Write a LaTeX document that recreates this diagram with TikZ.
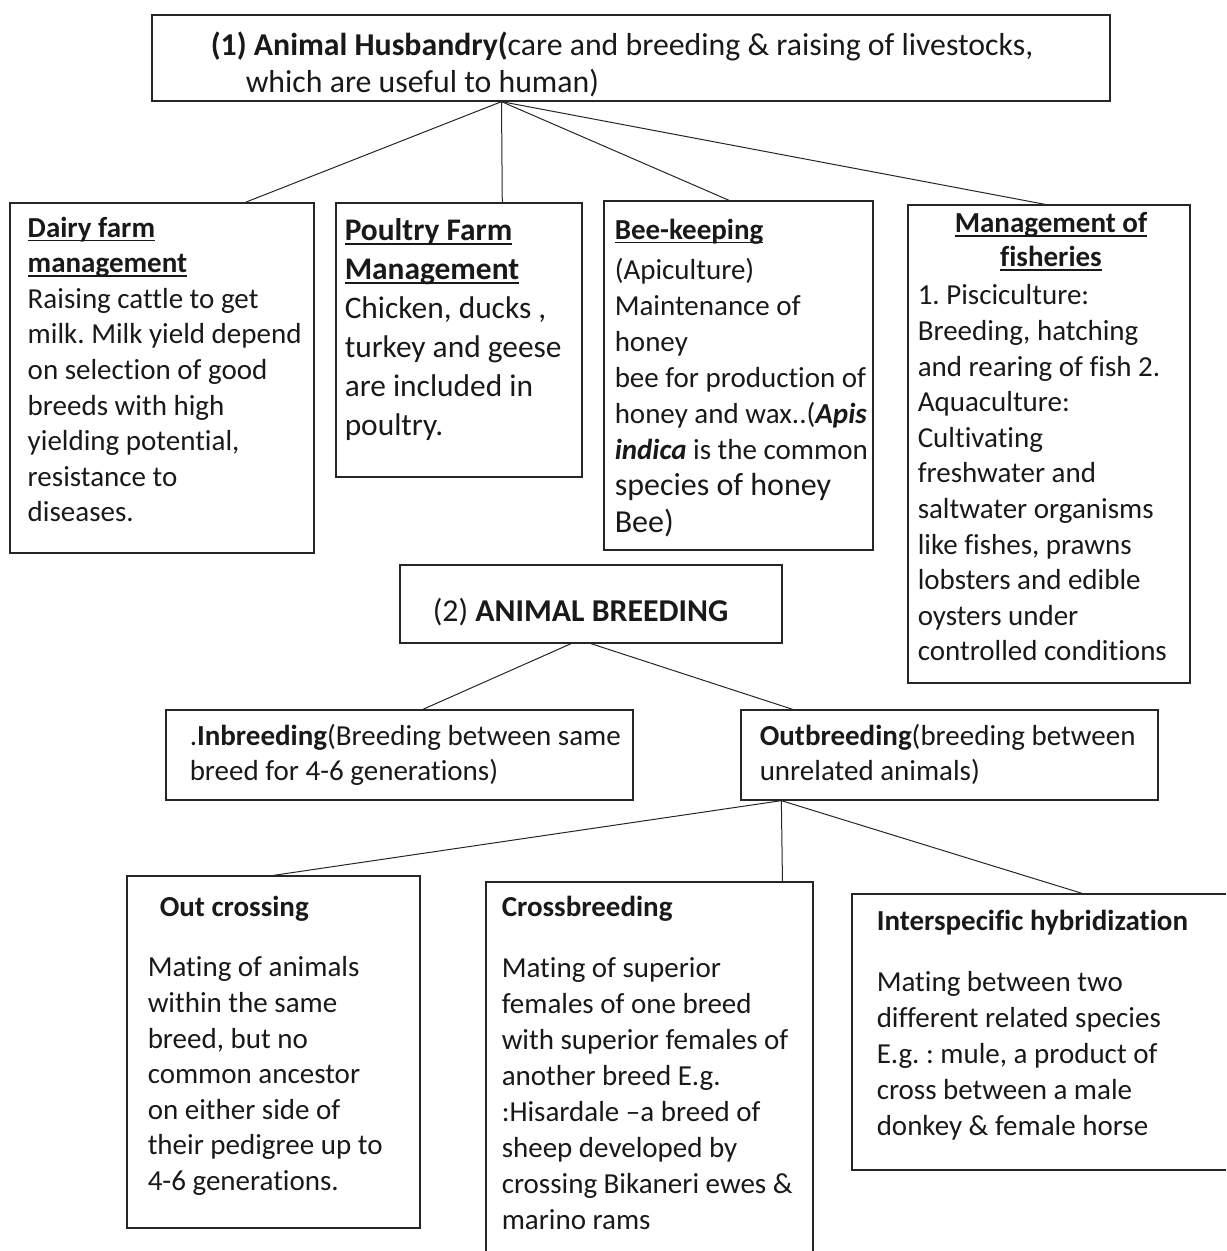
\documentclass[tikz,border=0pt]{standalone}
\usepackage{fontspec}
\setmainfont{Carlito}[Ligatures={TeX,NoCommon}]
\usepackage{tikz}
\usetikzlibrary{positioning,calc,fit}
\frenchspacing
\newsavebox{\hdbox}
\newcommand{\hd}[1]{{\bfseries\sbox{\hdbox}{#1}\rlap{\rule[-2pt]{\wd\hdbox}{0.7pt}}\usebox{\hdbox}}}
\tikzset{
  box/.style={draw=black!85, line width=0.65pt, inner sep=0pt},
  txt/.style={anchor=north west, inner sep=0pt, align=left, text=black!90, font=\fontsize{14.5}{17.8}\selectfont},
  bigtxt/.style={txt, font=\fontsize{15.9}{18.5}\selectfont},
  link/.style={draw=black!85, line width=0.5pt}
}

\begin{document}
\begin{tikzpicture}[x=0.5pt, y=-0.5pt]
  \useasboundingbox (0,0) rectangle (1226,1251);
  \clip (0,0) rectangle (1226,1251);
  % boxes
  \node[box, fit={(152,15) (1110,101)}] (husb) {};
  \node[box, fit={(10,203) (314,553)}] (dairy) {};
  \node[box, fit={(336,203) (582,477)}] (poultry) {};
  \node[box, fit={(604,201) (873,550)}] (bee) {};
  \node[box, fit={(908,205) (1190,683)}] (fish) {};
  \node[box, fit={(400,565) (782,643)}] (breed) {};
  \node[box, fit={(166,710) (633,800)}] (inbr) {};
  \node[box, fit={(741,710) (1158,800)}] (outbr) {};
  \node[box, fit={(127,876) (420,1228)}] (outx) {};
  \node[box, fit={(486,882) (813,1265)}] (cross) {};
  \node[box, fit={(852,894) (1245,1170)}] (inter) {};
  % texts
  \node[bigtxt] (husb-t) at ([shift={(59,17)}]husb.north west) {\textbf{(1) Animal Husbandry(}care and breeding \& raising of livestocks,\\\hspace*{17.5pt}which are useful to human)};
  \node[txt] (dairy-t) at ([shift={(18,14)}]dairy.north west) {\hd{Dairy farm}\\\hd{management}\\Raising cattle to get\\milk. Milk yield depend\\on selection of good\\breeds with high\\yielding potential,\\resistance to\\diseases.};
  \node[txt, font=\fontsize{15.7}{19.5}\selectfont] (poultry-t) at ([shift={(9,16)}]poultry.north west) {\hd{Poultry Farm}\\\hd{Management}\\Chicken, ducks ,\\turkey and geese\\are included in\\poultry.};
  \node[txt, font=\fontsize{14.5}{18}\selectfont] (bee-t) at ([shift={(11,18)}]bee.north west) {\hd{Bee-keeping}\\[2pt](Apiculture)\\Maintenance of\\honey\\bee for production of\\honey and wax..(\textbf{\textit{Apis}}\\\textbf{\textit{indica}} is the common\\{\fontsize{16}{18.5}\selectfont species of honey}\\[0.5pt]{\fontsize{16}{18.5}\selectfont Bee)}};
  \node[txt, anchor=north, align=center, font=\fontsize{14.5}{17}\selectfont] (fish-h) at ([shift={(2,8)}]fish.north) {\hd{Management of}\\\hd{fisheries}};
  \node[txt] (fish-t) at ([shift={(10,80)}]fish.north west) {1. Pisciculture:\\Breeding, hatching\\and rearing of fish 2.\\Aquaculture:\\Cultivating\\freshwater and\\saltwater organisms\\like fishes, prawns\\lobsters and edible\\oysters under\\controlled conditions};
  \node[bigtxt] (breed-t) at ([shift={(33,33)}]breed.north west) {(2) \textbf{ANIMAL BREEDING}};
  \node[txt, font=\fontsize{14.5}{17.5}\selectfont] (inbr-t) at ([shift={(24,15)}]inbr.north west) {.\textbf{Inbreeding}(Breeding between same\\breed for 4-6 generations)};
  \node[txt, font=\fontsize{14.5}{17.5}\selectfont] (outbr-t) at ([shift={(19,15)}]outbr.north west) {\textbf{Outbreeding}(breeding between\\unrelated animals)};
  \node[txt] (outx-h) at ([shift={(33,20)}]outx.north west) {\textbf{Out crossing}};
  \node[txt] (outx-t) at ([shift={(21,81)}]outx.north west) {Mating of animals\\within the same\\breed, but no\\common ancestor\\on either side of\\their pedigree up to\\4-6 generations.};
  \node[txt] (cross-h) at ([shift={(16,14)}]cross.north west) {\textbf{Crossbreeding}};
  \node[txt, font=\fontsize{14.5}{18}\selectfont] (cross-t) at ([shift={(16,76)}]cross.north west) {Mating of superior\\females of one breed\\with superior females of\\another breed E.g.\\:Hisardale –a breed of\\sheep developed by\\crossing Bikaneri ewes \&\\marino rams};
  \node[txt] (inter-h) at ([shift={(25,16)}]inter.north west) {\textbf{Interspecific hybridization}};
  \node[txt, font=\fontsize{14.5}{18}\selectfont] (inter-t) at ([shift={(25,78)}]inter.north west) {Mating between two\\different related species\\E.g. : mule, a product of\\cross between a male\\donkey \& female horse};
  % connectors
  \coordinate (husb-b) at ($(husb.south west)!.365!(husb.south east)$);
  \draw[link] (husb-b) -- ($(dairy.north west)!.773!(dairy.north east)$);
  \draw[link] (husb-b) -- ($(poultry.north west)!.675!(poultry.north east)$);
  \draw[link] (husb-b) -- ($(bee.north west)!.465!(bee.north east)$);
  \draw[link] (husb-b) -- ($(fish.north west)!.486!(fish.north east)$);
  \draw[link] ($(breed.south west)!.448!(breed.south east)$) -- ($(inbr.north west)!.55!(inbr.north east)$);
  \draw[link] (breed.south) -- ($(outbr.north west)!.125!(outbr.north east)$);
  \coordinate (outbr-b) at ($(outbr.south west)!.098!(outbr.south east)$);
  \draw[link] (outbr-b) -- (outx.north);
  \draw[link] (outbr-b) -- ($(cross.north west)!.905!(cross.north east)$);
  \draw[link] (outbr-b) -- ($(inter.north west)!.585!(inter.north east)$);
\end{tikzpicture}
\end{document}
